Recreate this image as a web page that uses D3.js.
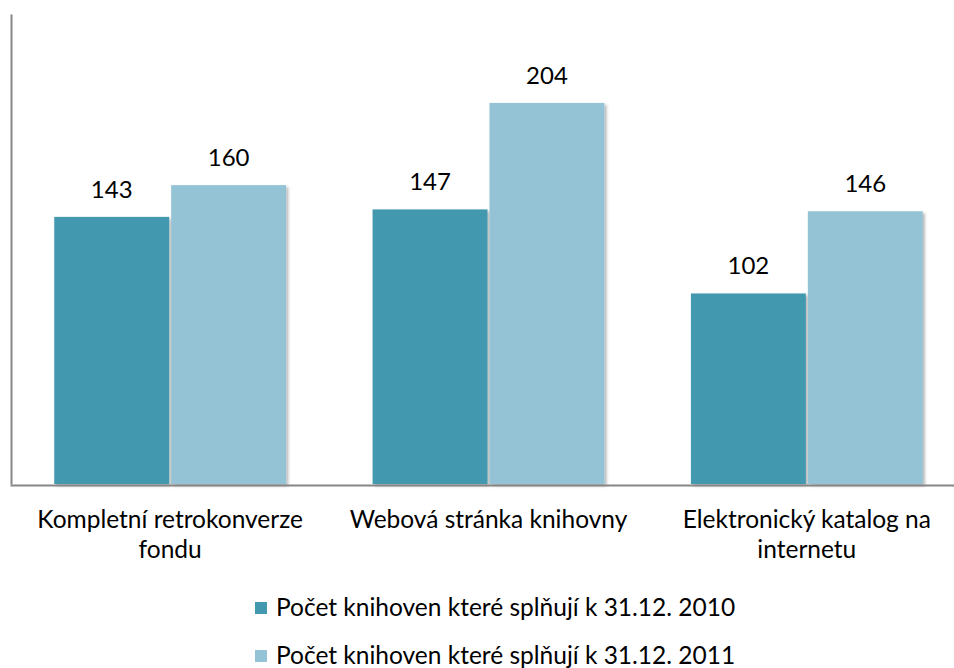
<!DOCTYPE html>
<html>
<head>
<meta charset="utf-8">
<script src="https://cdn.jsdelivr.net/npm/d3@7"></script>
<style>
  body { margin: 0; background: #fff; }
  svg { display: block; font-family: Lato, "Open Sans", sans-serif; }
</style>
</head>
<body>
<svg id="chart"></svg>
<script>
const categories = [
    ["Kompletní retrokonverze", "fondu"],
    ["Webová stránka knihovny"],
    ["Elektronický katalog na", "internetu"]
];
const seriesNames = [
    "Počet knihoven které splňují k 31.12. 2010",
    "Počet knihoven které splňují k 31.12. 2011"
];
const values2010 = [143, 147, 102];
const values2011 = [160, 204, 146];
const colors = ["#4398af", "#93c3d5"];

const width = 954, height = 668;
const baseY = 484;

const svg = d3.select("#chart")
    .attr("width", width)
    .attr("height", height);

// soft shadow like the office chart
const defs = svg.append("defs");
defs.append("filter")
    .attr("id", "shadow")
    .attr("x", "-10%").attr("y", "-10%")
    .attr("width", "130%").attr("height", "130%")
    .append("feDropShadow")
    .attr("dx", 2).attr("dy", 2)
    .attr("stdDeviation", 1.5)
    .attr("flood-color", "#000")
    .attr("flood-opacity", 0.3);

const catKeys = categories.map(c => c.join(" "));

const x0 = d3.scaleBand()
    .domain(catKeys)
    .range([11, 966])
    .padding(0);

const x1 = d3.scaleBand()
    .domain([0, 1])
    .range([0, x0.bandwidth()])
    .paddingInner(0.017)
    .paddingOuter(0.37);

const y = d3.scaleLinear()
    .domain([0, 250])
    .range([baseY, 17]);

const data = catKeys.map((k, i) => ({
    key: k,
    vals: [values2010[i], values2011[i]]
}));

// Bars
const groups = svg.selectAll(".group")
    .data(data)
    .enter().append("g")
    .attr("class", "group")
    .attr("transform", d => `translate(${x0(d.key)},0)`);

groups.selectAll("rect")
    .data(d => d.vals.map((v, j) => ({ v, j })))
    .enter().append("rect")
    .attr("x", d => x1(d.j))
    .attr("y", d => y(d.v))
    .attr("width", x1.bandwidth())
    .attr("height", d => baseY - y(d.v))
    .attr("fill", d => colors[d.j])
    .attr("filter", "url(#shadow)");

// value labels
groups.selectAll(".label")
    .data(d => d.vals.map((v, j) => ({ v, j })))
    .enter().append("text")
    .attr("class", "label")
    .attr("x", d => x1(d.j) + x1.bandwidth() / 2)
    .attr("y", d => y(d.v) - 19)
    .attr("text-anchor", "middle")
    .attr("font-size", "24px")
    .attr("fill", "#000")
    .text(d => d.v);

// axes (no ticks)
svg.append("g")
    .attr("transform", `translate(11,0)`)
    .call(d3.axisLeft(d3.scaleLinear().range([baseY, 14])).ticks(0).tickSizeOuter(0))
    .select(".domain")
    .attr("stroke", "#868686")
    .attr("stroke-width", 2);

svg.append("g")
    .attr("transform", `translate(0,${baseY + 1})`)
    .call(d3.axisBottom(d3.scaleLinear().range([10, width])).ticks(0).tickSizeOuter(0))
    .select(".domain")
    .attr("stroke", "#868686")
    .attr("stroke-width", 2);

// category labels
const catLabels = svg.selectAll(".cat")
    .data(categories)
    .enter().append("text")
    .attr("class", "cat")
    .attr("text-anchor", "middle")
    .attr("font-size", "24.5px")
    .attr("fill", "#000")
    .attr("x", (d, i) => x0(catKeys[i]) + x0.bandwidth() / 2)
    .attr("y", 528);

catLabels.selectAll("tspan")
    .data(d => d)
    .enter().append("tspan")
    .attr("x", function () { return d3.select(this.parentNode).attr("x"); })
    .attr("dy", (d, i) => i === 0 ? 0 : 30)
    .text(d => d);

// legend
const legend = svg.selectAll(".legend")
    .data(seriesNames)
    .enter().append("g")
    .attr("class", "legend")
    .attr("transform", (d, i) => `translate(255,${602 + i * 48})`);

legend.append("rect")
    .attr("width", 12)
    .attr("height", 12)
    .attr("fill", (d, i) => colors[i]);

legend.append("text")
    .attr("x", 21)
    .attr("y", 14)
    .attr("font-size", "24.5px")
    .attr("fill", "#000")
    .text(d => d);
</script>
</body>
</html>
